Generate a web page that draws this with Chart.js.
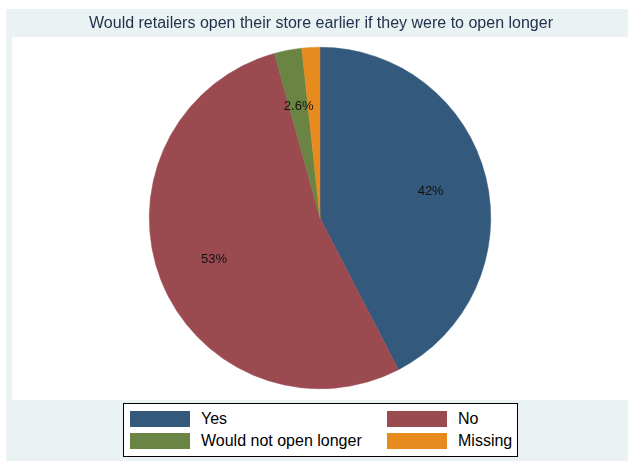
<!DOCTYPE html>
<html>
  <head>
    <meta charset="UTF-8" />
    <title>Pie chart</title>
    <script src="https://cdn.jsdelivr.net/npm/chart.js"></script>
    <style>
      body {
        margin: 0;
        background: #ffffff;
        font-family: "Liberation Sans", Arial, sans-serif;
      }
      .page {
        position: relative;
        width: 628px;
        height: 461px;
        overflow: hidden;
      }
      .graph-region {
        position: absolute;
        left: 6px;
        top: 9px;
        right: 0;
        bottom: 0;
        background: #eaf2f3;
      }
      .plot-region {
        position: absolute;
        left: 12px;
        top: 37px;
        right: 0;
        height: 363px;
        background: #ffffff;
      }
      .chart-wrap {
        position: absolute;
        left: 0;
        top: 0;
        width: 628px;
        height: 461px;
      }
      .legend {
        position: absolute;
        left: 123px;
        top: 403px;
        width: 393px;
        height: 52px;
        background: #ffffff;
        border: 1px solid #000000;
      }
      .legend .swatch {
        position: absolute;
        width: 60px;
        height: 16px;
      }
      .legend .text {
        position: absolute;
        font-size: 16px;
        line-height: 18px;
        color: #000000;
        white-space: nowrap;
      }
    </style>
  </head>
  <body>
    <div class="page">
      <div class="graph-region"></div>
      <div class="plot-region"></div>
      <div class="chart-wrap"><canvas id="pie"></canvas></div>
      <div class="legend" id="legend"></div>
    </div>
    <script>
      const titleText =
        "Would retailers open their store earlier if they were to open longer";
      const categories = ["Yes", "No", "Would not open longer", "Missing"];
      const shares = [42.4, 53.3, 2.6, 1.7];
      const sliceLabels = ["42%", "53%", "2.6%", ""];
      const colors = ["#335a7d", "#9b4a50", "#698443", "#e88b1e"];

      // slice labels at two thirds of the radius, like the original
      const sliceLabelPlugin = {
        id: "sliceLabels",
        afterDatasetsDraw(chart) {
          const ctx = chart.ctx;
          const meta = chart.getDatasetMeta(0);
          ctx.save();
          ctx.font = '13px "Liberation Sans", Arial, sans-serif';
          ctx.fillStyle = "#111111";
          ctx.textAlign = "center";
          ctx.textBaseline = "middle";
          meta.data.forEach((arc, i) => {
            const text = sliceLabels[i];
            if (!text) return;
            const p = arc.getProps(
              ["x", "y", "startAngle", "endAngle", "outerRadius"],
              true
            );
            const mid = (p.startAngle + p.endAngle) / 2;
            const r = p.outerRadius * 0.667;
            ctx.fillText(text, p.x + Math.cos(mid) * r, p.y + Math.sin(mid) * r);
          });
          ctx.restore();
        },
      };

      // title wider than the pie, so drawn here instead of the title plugin
      const wideTitlePlugin = {
        id: "wideTitle",
        afterDraw(chart) {
          const ctx = chart.ctx;
          ctx.save();
          ctx.font = '16px "Liberation Sans", Arial, sans-serif';
          ctx.fillStyle = "#22324e";
          ctx.textAlign = "center";
          ctx.textBaseline = "middle";
          ctx.fillText(titleText, 321, 24);
          ctx.restore();
        },
      };

      new Chart(document.getElementById("pie").getContext("2d"), {
        type: "pie",
        data: {
          labels: categories,
          datasets: [
            {
              data: shares,
              backgroundColor: colors,
              borderColor: colors,
              borderWidth: 0.5,
            },
          ],
        },
        options: {
          responsive: true,
          maintainAspectRatio: false,
          animation: false,
          layout: {
            padding: { left: 149, right: 137, top: 47, bottom: 72 },
          },
          plugins: {
            legend: { display: false },
            tooltip: { enabled: false },
            title: { display: false },
          },
        },
        plugins: [sliceLabelPlugin, wideTitlePlugin],
      });

      // legend in two columns, built from the same arrays
      const legend = document.getElementById("legend");
      const colX = [6, 263];
      const rowY = [7, 29];
      categories.forEach((name, i) => {
        const col = i % 2;
        const row = Math.floor(i / 2);
        const sw = document.createElement("div");
        sw.className = "swatch";
        sw.style.left = colX[col] + "px";
        sw.style.top = rowY[row] + "px";
        sw.style.background = colors[i];
        legend.appendChild(sw);
        const tx = document.createElement("div");
        tx.className = "text";
        tx.style.left = colX[col] + 71 + "px";
        tx.style.top = rowY[row] - 1 + "px";
        tx.textContent = name;
        legend.appendChild(tx);
      });
    </script>
  </body>
</html>
